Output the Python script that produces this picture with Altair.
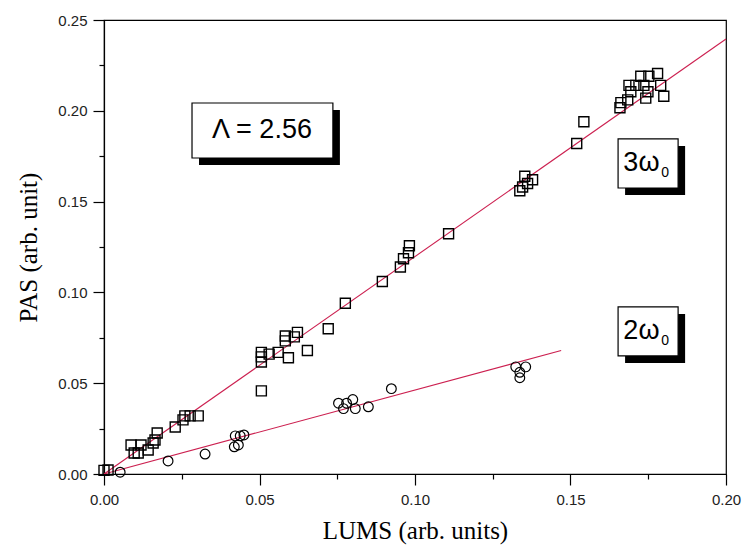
import altair as alt
import pandas as pd

# ---- data ----
sq_x = [0.0000, 0.0013, 0.0087, 0.0119, 0.0097, 0.0110, 0.0142, 0.0158, 0.0164, 0.0171,
        0.0229, 0.0254, 0.0260, 0.0277, 0.0303, 0.0506, 0.0506, 0.0506, 0.0506, 0.0531,
        0.0560, 0.0583, 0.0583, 0.0593, 0.0612, 0.0622, 0.0654, 0.0721, 0.0776, 0.0895,
        0.0953, 0.0963, 0.0979, 0.0982, 0.1108, 0.1337, 0.1346, 0.1362, 0.1353, 0.1378,
        0.1520, 0.1543, 0.1659, 0.1662, 0.1684, 0.1694, 0.1688, 0.1710, 0.1726, 0.1736,
        0.1742, 0.1749, 0.1752, 0.1780, 0.1790, 0.1800]
sq_y = [0.0020, 0.0022, 0.0160, 0.0160, 0.0116, 0.0116, 0.0132, 0.0171, 0.0187, 0.0226,
        0.0259, 0.0298, 0.0320, 0.0320, 0.0320, 0.0458, 0.0617, 0.0645, 0.0670, 0.0660,
        0.0670, 0.0733, 0.0760, 0.0640, 0.0755, 0.0780, 0.0680, 0.0800, 0.0940, 0.1060,
        0.1140, 0.1185, 0.1218, 0.1257, 0.1323, 0.1560, 0.1580, 0.1600, 0.1640, 0.1620,
        0.1820, 0.1940, 0.2017, 0.2045, 0.2060, 0.2105, 0.2140, 0.2140, 0.2190, 0.2140,
        0.2070, 0.2105, 0.2190, 0.2205, 0.2140, 0.2080]

ci_x = [0.0052, 0.0206, 0.0325, 0.0419, 0.0432, 0.0422, 0.0438, 0.0450, 0.0754, 0.0770,
        0.0780, 0.0800, 0.0808, 0.0850, 0.0924, 0.1324, 0.1337, 0.1356, 0.1337]
ci_y = [0.0010, 0.0072, 0.0110, 0.0150, 0.0160, 0.0210, 0.0210, 0.0215, 0.0390, 0.0360,
        0.0390, 0.0410, 0.0360, 0.0370, 0.0470, 0.0590, 0.0560, 0.0590, 0.0530]

fit3_x = [0.0, 0.2]
fit3_y = [0.0, 0.2395]
fit2_x = [0.0, 0.147]
fit2_y = [0.0, 0.068]

# annotation boxes (data coordinates) and labels
box_x1 = [0.0283, 0.1653, 0.1653]
box_x2 = [0.0736, 0.1846, 0.1846]
box_y1 = [0.2043, 0.1845, 0.0920]
box_y2 = [0.1740, 0.1575, 0.0650]
main_txt = ["Λ = 2.56", "3ω", "2ω"]
main_tx = [0.0508, 0.1728, 0.1728]
main_ty = [0.1894, 0.1712, 0.0787]
sub_txt = ["0", "0"]
sub_tx = [0.1804, 0.1804]
sub_ty = [0.1660, 0.0735]

x_ticks = [0, 0.025, 0.05, 0.075, 0.1, 0.125, 0.15, 0.175, 0.2]
y_ticks = [0, 0.025, 0.05, 0.075, 0.1, 0.125, 0.15, 0.175, 0.2, 0.225, 0.25]

# ---- tables ----
squares = pd.DataFrame({"x": sq_x, "y": sq_y})
circles = pd.DataFrame({"x": ci_x, "y": ci_y})
fit3 = pd.DataFrame({"x": fit3_x, "y": fit3_y})
fit2 = pd.DataFrame({"x": fit2_x, "y": fit2_y})
boxes = pd.DataFrame({"x1": box_x1, "x2": box_x2, "y1": box_y1, "y2": box_y2})
texts = pd.DataFrame({"x": main_tx, "y": main_ty, "t": main_txt})
subs = pd.DataFrame({"x": sub_tx, "y": sub_ty, "t": sub_txt})

major_test = "abs(datum.value*20 - round(datum.value*20)) < 0.0001"
label_expr = f"{major_test} ? format(datum.value, '.2f') : ''"

xscale = alt.Scale(domain=[0, 0.2], nice=False, zero=False)
yscale = alt.Scale(domain=[0, 0.25], nice=False, zero=False)

xaxis = alt.Axis(values=x_ticks, labelExpr=label_expr, grid=False, labelFlush=False,
                 tickSize={"condition": {"test": major_test, "value": 11}, "value": 5},
                 labelPadding=7, title="LUMS (arb. units)",
                 titleX=311, titleY=56, titleAlign="center", titleBaseline="middle")
yaxis = alt.Axis(values=y_ticks, labelExpr=label_expr, grid=False, labelFlush=False,
                 tickSize={"condition": {"test": major_test, "value": 11}, "value": 5},
                 labelPadding=6, title="PAS (arb. unit)",
                 titleX=-76, titleY=227, titleAlign="center", titleBaseline="middle",
                 titleAngle=-90)

X = alt.X("x:Q", scale=xscale, axis=xaxis)
Y = alt.Y("y:Q", scale=yscale, axis=yaxis)

red = "#cc2050"
l3 = alt.Chart(fit3).mark_line(color=red, strokeWidth=1.1).encode(x=X, y=Y)
l2 = alt.Chart(fit2).mark_line(color=red, strokeWidth=1.1).encode(x="x:Q", y="y:Q")

pts_sq = alt.Chart(squares).mark_point(shape="square", size=100, filled=False,
                                       color="black", strokeWidth=1.4, opacity=1).encode(
    x="x:Q", y="y:Q")
pts_ci = alt.Chart(circles).mark_point(shape="circle", size=95, filled=False,
                                       color="black", strokeWidth=1.2, opacity=1).encode(
    x="x:Q", y="y:Q")

shadow = alt.Chart(boxes).mark_rect(color="black", xOffset=7, x2Offset=7,
                                    yOffset=7, y2Offset=7).encode(
    x="x1:Q", x2="x2:Q", y="y1:Q", y2="y2:Q")
box = alt.Chart(boxes).mark_rect(fill="white", stroke="black", strokeWidth=1.2).encode(
    x="x1:Q", x2="x2:Q", y="y1:Q", y2="y2:Q")
txt = alt.Chart(texts).mark_text(font="Liberation Sans", fontSize=27, color="black",
                                 align="center", baseline="middle").encode(
    x="x:Q", y="y:Q", text="t:N")
sub = alt.Chart(subs).mark_text(font="Liberation Sans", fontSize=14, color="black",
                                align="center", baseline="middle").encode(
    x="x:Q", y="y:Q", text="t:N")

chart = alt.layer(l3, l2, pts_sq, pts_ci, shadow, box, txt, sub).properties(
    width=622, height=454,
    background="white",
    autosize=alt.AutoSizeParams(type="none"),
    padding={"left": 104, "top": 20, "right": 18, "bottom": 75},
).configure_view(stroke="black", strokeWidth=1.2).configure_axis(
    domainColor="black", domainWidth=1.2, tickColor="black", tickWidth=1.2,
    labelFont="Liberation Sans", labelFontSize=15, labelColor="#222",
    titleFont="Liberation Serif", titleFontSize=25, titleFontWeight="normal",
    titleColor="black",
)

chart.save("out.html", embed_options={"renderer": "svg", "actions": False})
